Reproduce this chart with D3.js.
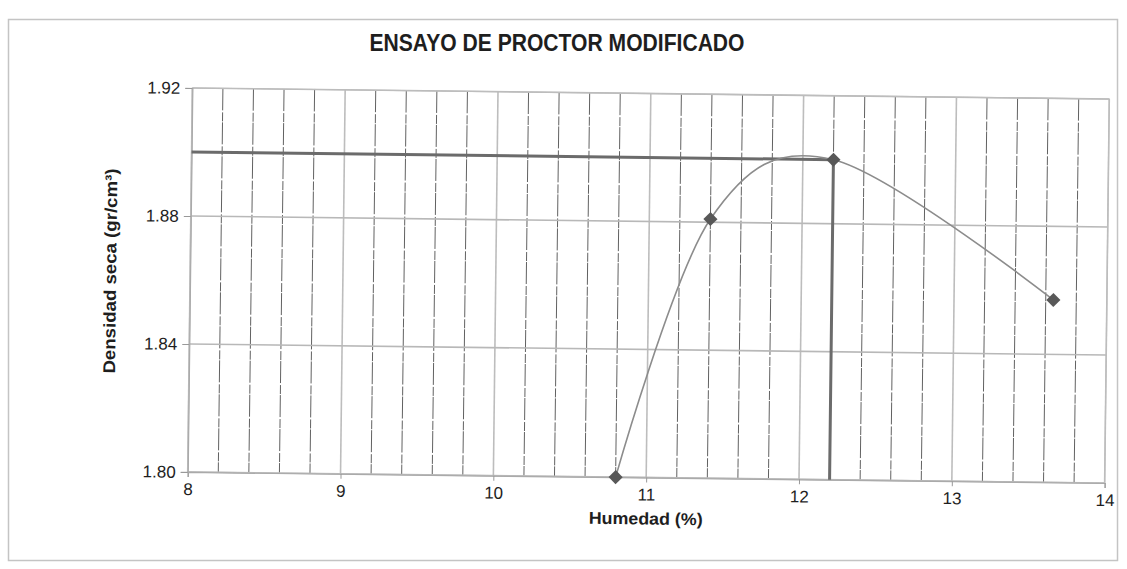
<!DOCTYPE html>
<html>
<head>
<meta charset="utf-8">
<script src="https://cdn.jsdelivr.net/npm/d3@7"></script>
<style>
  body { margin: 0; background: #fff; }
  text { font-family: "Liberation Sans", Arial, sans-serif; fill: #1e1e1e; }
</style>
</head>
<body>
<div id="chart"></div>
<script>
// data
var humedad = [10.8, 11.4, 12.2, 13.65];          // % moisture
var densidad = [1.800, 1.881, 1.900, 1.857];      // gr/cm3
var optHumedad = 12.2;                            // optimum moisture
var maxDensidad = 1.900;                          // max dry density
var xTicks = [8, 9, 10, 11, 12, 13, 14];
var yTicks = [1.80, 1.84, 1.88, 1.92];
var xMinor = d3.range(8, 14.001, 0.2);

var W = 1127, H = 569;
var margin = {top: 93.5, right: 20, bottom: 91.5, left: 190}
    , width = 917
    , height = 384;

var svg = d3.select("#chart").append("svg")
    .attr("width", W)
    .attr("height", H);

// outer chart border
svg.append("rect")
    .attr("x", 8.5).attr("y", 19.5)
    .attr("width", 1109).attr("height", 541)
    .attr("fill", "none")
    .attr("stroke", "#c4c4c4")
    .attr("stroke-width", 1.5);

svg.append("text")
    .attr("x", 557).attr("y", 51)
    .attr("text-anchor", "middle")
    .attr("font-size", 23)
    .attr("font-weight", "bold")
    .attr("textLength", 375)
    .attr("lengthAdjust", "spacingAndGlyphs")
    .text("ENSAYO DE PROCTOR MODIFICADO");

// the scan is a little tilted, so tilt the plot too
var g = svg.append("g")
    .attr("transform", "rotate(0.69," + (margin.left + width / 2) + "," + (margin.top + height / 2) + ") translate(" + margin.left + "," + margin.top + ")");

var xScale = d3.scaleLinear().domain([8, 14]).range([0, width]);
var yScale = d3.scaleLinear().domain([1.80, 1.92]).range([height, 0]);

// minor vertical grid (every 0.2)
g.append("g").selectAll("line")
    .data(xMinor.filter(function(d) { return Math.abs(d - Math.round(d)) > 0.01; }))
    .enter().append("line")
    .attr("x1", function(d) { return xScale(d); })
    .attr("x2", function(d) { return xScale(d); })
    .attr("y1", 0).attr("y2", height)
    .attr("stroke", "#505050")
    .attr("stroke-width", 0.9)
    .attr("stroke-dasharray", "22,2,9,1");

// major vertical grid
g.append("g").selectAll("line")
    .data(xTicks)
    .enter().append("line")
    .attr("x1", function(d) { return xScale(d); })
    .attr("x2", function(d) { return xScale(d); })
    .attr("y1", 0).attr("y2", height)
    .attr("stroke", "#bdbdbd")
    .attr("stroke-width", 1.6);

// horizontal grid
g.append("g").selectAll("line")
    .data(yTicks)
    .enter().append("line")
    .attr("x1", 0).attr("x2", width)
    .attr("y1", function(d) { return yScale(d); })
    .attr("y2", function(d) { return yScale(d); })
    .attr("stroke", "#b8b8b8")
    .attr("stroke-width", 1.6);

// plot area border
g.append("rect")
    .attr("width", width).attr("height", height)
    .attr("fill", "none")
    .attr("stroke", "#bdbdbd")
    .attr("stroke-width", 1.2);

// axes
var xAxis = g.append("g")
    .attr("transform", "translate(0," + height + ")")
    .call(d3.axisBottom(xScale).tickValues(xTicks).tickSize(5).tickPadding(6).tickFormat(d3.format("d")));
var yAxis = g.append("g")
    .call(d3.axisLeft(yScale).tickValues(yTicks).tickSize(7).tickPadding(5).tickFormat(d3.format(".2f")));
[xAxis, yAxis].forEach(function(a) {
    a.select(".domain").attr("stroke", "#aaa").attr("stroke-width", 1.2);
    a.selectAll(".tick line").attr("stroke", "#999");
    a.selectAll(".tick text")
        .attr("font-size", 17)
        .attr("font-family", "Liberation Sans, Arial, sans-serif")
        .attr("fill", "#1e1e1e");
});

// optimum marker lines
g.append("path")
    .attr("d", "M" + xScale(8) + "," + yScale(maxDensidad) + "H" + xScale(optHumedad) + "V" + yScale(1.80))
    .attr("fill", "none")
    .attr("stroke", "#6b6b6b")
    .attr("stroke-width", 3);

// smoothed curve
var pts = humedad.map(function(h, i) { return {x: h, y: densidad[i]}; });
var valueLine = d3.line()
    .x(function(d) { return xScale(d.x); })
    .y(function(d) { return yScale(d.y); })
    .curve(d3.curveCardinal.tension(0));
g.append("path")
    .datum(pts)
    .attr("d", valueLine)
    .attr("fill", "none")
    .attr("stroke", "#8c8c8c")
    .attr("stroke-width", 1.6);

// diamond markers
g.append("g").selectAll("path")
    .data(pts)
    .enter().append("path")
    .attr("d", d3.symbol().type(d3.symbolSquare).size(100))
    .attr("transform", function(d) { return "translate(" + xScale(d.x) + "," + yScale(d.y) + ") rotate(45)"; })
    .attr("fill", "#585858");

// axis titles
g.append("text")
    .attr("x", xScale(11)).attr("y", height + 47)
    .attr("text-anchor", "middle")
    .attr("font-size", 17)
    .attr("font-weight", "bold")
    .attr("textLength", 114)
    .attr("lengthAdjust", "spacingAndGlyphs")
    .text("Humedad (%)");

g.append("text")
    .attr("transform", "translate(-74," + (height / 2 - 8) + ") rotate(-90)")
    .attr("text-anchor", "middle")
    .attr("font-size", 17)
    .attr("font-weight", "bold")
    .attr("textLength", 205)
    .attr("lengthAdjust", "spacingAndGlyphs")
    .text("Densidad seca (gr/cm³)");
</script>
</body>
</html>
